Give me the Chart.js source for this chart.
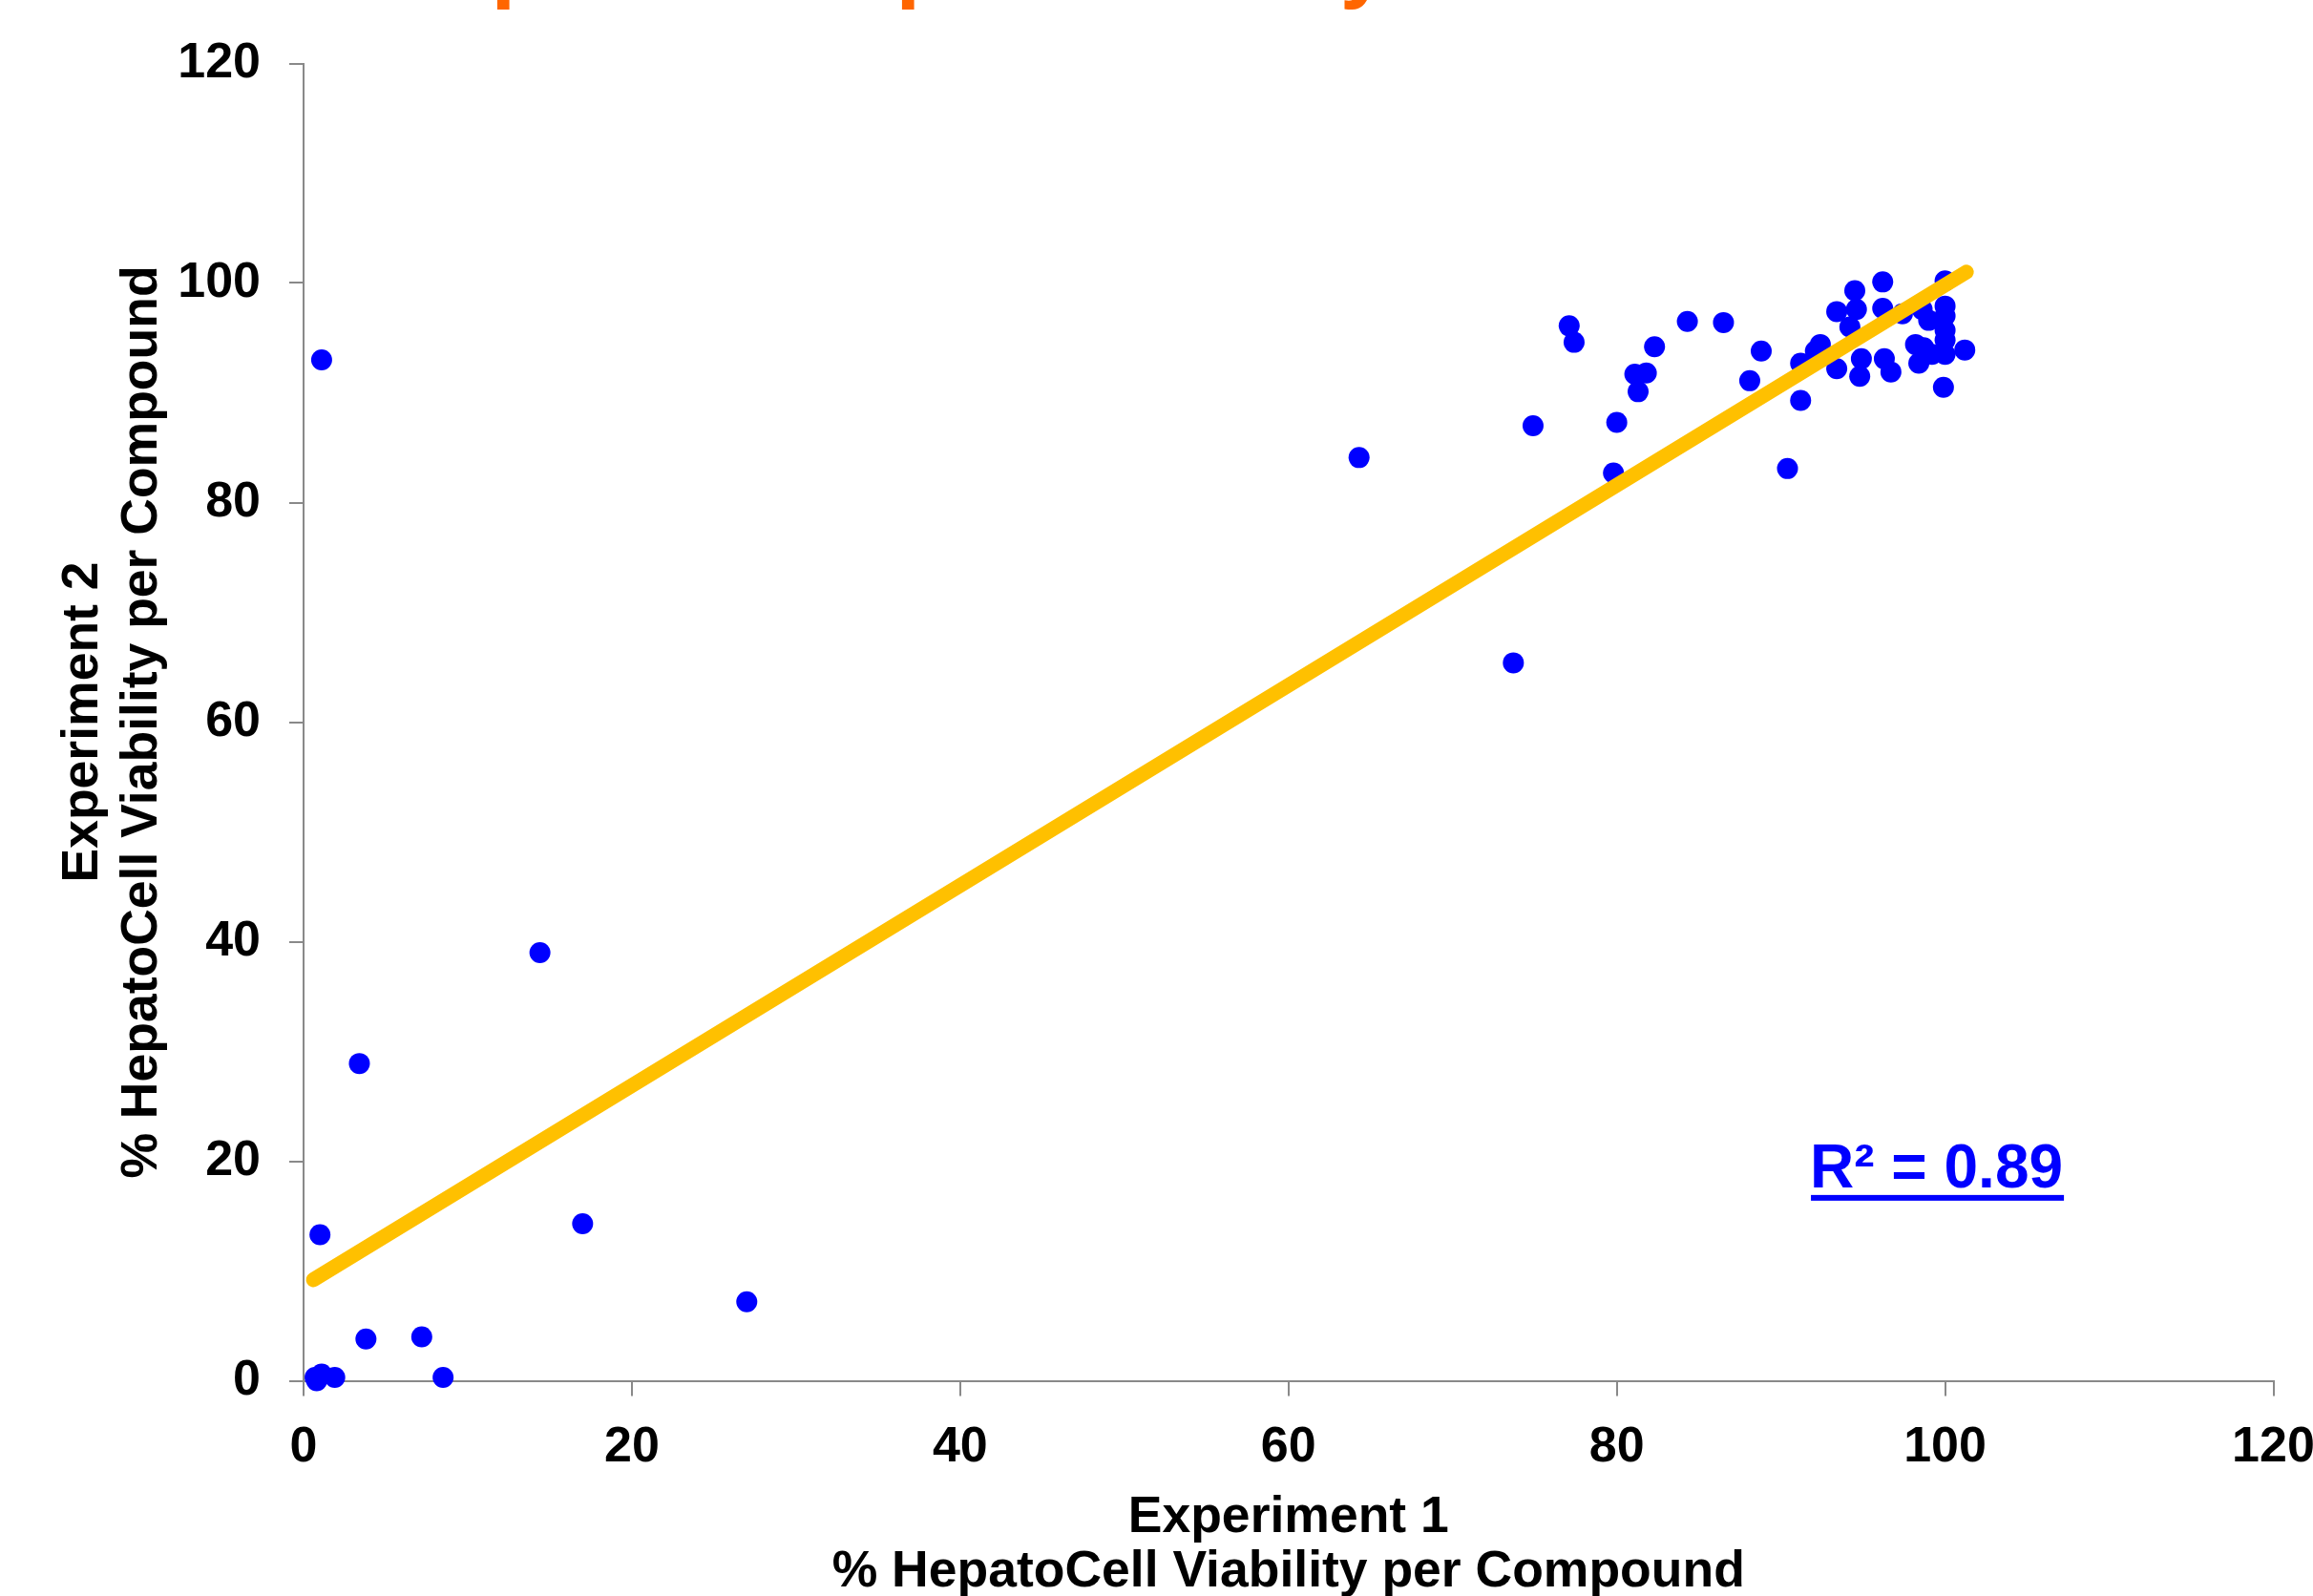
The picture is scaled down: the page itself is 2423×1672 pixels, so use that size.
<!DOCTYPE html>
<html>
<head>
<meta charset="utf-8">
<title>HepatoCell viability – experiment 1 vs 2</title>
<script src="https://cdn.jsdelivr.net/npm/chart.js@4.4.1/dist/chart.umd.min.js"></script>
<style>
    html, body { margin: 0; padding: 0; background: #fff; }
    #wrap { width: 2423px; height: 1672px; }
</style>
</head>
<body>
<div id="wrap"><canvas id="chart" width="2423" height="1672"></canvas></div>
<script>
// % viability per compound, experiment 1 (x) and experiment 2 (y)
const exp1 = [
    0.7, 1.1, 1.9, 0.8, 3.8, 7.2, 8.5, 1.0, 3.4, 14.4, 17.0, 27.0, 1.1,
    64.3, 73.7, 74.9, 77.1, 77.4, 80.0, 79.8, 81.1, 81.8, 81.3, 82.3, 84.3, 86.5,
    88.1, 88.8, 90.4, 91.2, 91.2, 92.1, 92.4, 93.4, 93.4, 94.5, 94.6, 94.2, 94.8,
    94.9, 96.2, 96.2, 96.3, 96.7, 97.4, 98.6, 99.0, 98.2, 98.7, 99.2, 98.4,
    100.0, 100.0, 100.0, 100.0, 100.0, 100.0, 101.2, 99.9
];
const exp2 = [
    0.3, 0.6, 0.3, 0.0, 3.8, 4.0, 0.3, 13.3, 28.9, 39.0, 14.3, 7.2, 93.0,
    84.1, 65.4, 87.0, 96.1, 94.6, 87.3, 82.7, 91.7, 91.8, 90.1, 94.2, 96.5, 96.4,
    91.1, 93.8, 83.1, 89.3, 92.7, 93.8, 94.4, 97.4, 92.2, 99.3, 97.6, 96.0, 91.5,
    93.1, 100.1, 97.7, 93.1, 91.9, 97.2, 97.6, 96.6, 94.4, 94.1, 93.5, 92.7,
    100.2, 97.9, 97.0, 95.7, 94.8, 93.5, 93.9, 90.5
];

// linear trendline, end points as drawn
const trendX = [0.6, 101.3];
const trendY = [9.2, 101.0];

const axisTicks = [0, 20, 40, 60, 80, 100, 120];
const xTitle = ['Experiment 1', '% HepatoCell Viability per Compound'];
const yTitle = ['Experiment 2', '% HepatoCell Viability per Compound'];
const r2Text = 'R\u00B2 = 0.89';
// slide title sits above the picture, only its descenders show
const slideTitle = 'Compound Hepatotoxicity';

const FONT = '"Liberation Sans", Arial, sans-serif';
const AXIS_GREY = '#898989';

const points = exp1.map((x, i) => ({ x: x, y: exp2[i] }));
const trend = trendX.map((x, i) => ({ x: x, y: trendY[i] }));

const extraText = {
    id: 'extraText',
    afterDraw(chart) {
        const ctx = chart.ctx;
        const xs = chart.scales.x;
        const ys = chart.scales.y;
        ctx.save();
        ctx.textAlign = 'left';
        ctx.textBaseline = 'alphabetic';

        ctx.font = 'bold 92px ' + FONT;
        ctx.fillStyle = '#FF6600';
        ctx.fillText(slideTitle, 310, -9);

        ctx.font = 'bold 64px ' + FONT;
        ctx.fillStyle = '#0000FF';
        const lx = xs.getPixelForValue(91.77);
        const ly = ys.getPixelForValue(17.62);
        ctx.fillText(r2Text, lx, ly);
        const w = ctx.measureText(r2Text).width;
        ctx.fillRect(lx + 1, ly + 8, w, 6);
        ctx.restore();
    }
};

function setTicks(scale) {
    scale.ticks = axisTicks.map(v => ({ value: v }));
}

const ctx = document.getElementById('chart').getContext('2d');
new Chart(ctx, {
    type: 'scatter',
    data: {
        datasets: [
            {
                label: 'Trendline',
                data: trend,
                showLine: true,
                borderColor: '#FFC000',
                borderWidth: 15.5,
                borderCapStyle: 'round',
                pointRadius: 0,
                clip: false,
                order: 0
            },
            {
                label: 'Compounds',
                data: points,
                backgroundColor: '#0000FF',
                borderWidth: 0,
                pointRadius: 11,
                clip: false,
                order: 1
            }
        ]
    },
    options: {
        responsive: false,
        animation: false,
        devicePixelRatio: 1,
        layout: { padding: { top: 66.5, right: 41.5, left: 0, bottom: 0 } },
        plugins: {
            legend: { display: false },
            tooltip: { enabled: false }
        },
        scales: {
            x: {
                type: 'linear',
                min: 0,
                max: 120,
                afterBuildTicks: setTicks,
                afterFit(scale) {
                    scale.height = 225.5;
                    // the end labels may hang over the edges, as in the original
                    scale.paddingLeft = 0;
                    scale.paddingRight = 0;
                },
                border: { display: true, color: AXIS_GREY, width: 2 },
                grid: { drawOnChartArea: false, drawTicks: true, tickLength: 16, color: AXIS_GREY, lineWidth: 2 },
                ticks: { color: '#000', padding: 23, font: { family: FONT, size: 52, weight: 'bold' } },
                title: {
                    display: true,
                    text: xTitle,
                    color: '#000',
                    padding: { top: 0, bottom: -4 },
                    font: { family: FONT, size: 53.5, weight: 'bold', lineHeight: 57 / 53.5 }
                }
            },
            y: {
                type: 'linear',
                min: 0,
                max: 120,
                afterBuildTicks: setTicks,
                afterFit(scale) {
                    scale.width = 318;
                    scale.paddingTop = 0;
                    scale.paddingBottom = 0;
                },
                border: { display: true, color: AXIS_GREY, width: 2 },
                grid: { drawOnChartArea: false, drawTicks: true, tickLength: 15, color: AXIS_GREY, lineWidth: 2 },
                ticks: { color: '#000', padding: 30, font: { family: FONT, size: 52, weight: 'bold' } },
                title: {
                    display: true,
                    text: yTitle,
                    color: '#000',
                    padding: { top: 56, bottom: 0 },
                    font: { family: FONT, size: 53.5, weight: 'bold', lineHeight: 62 / 53.5 }
                }
            }
        }
    },
    plugins: [extraText]
});
</script>
</body>
</html>
